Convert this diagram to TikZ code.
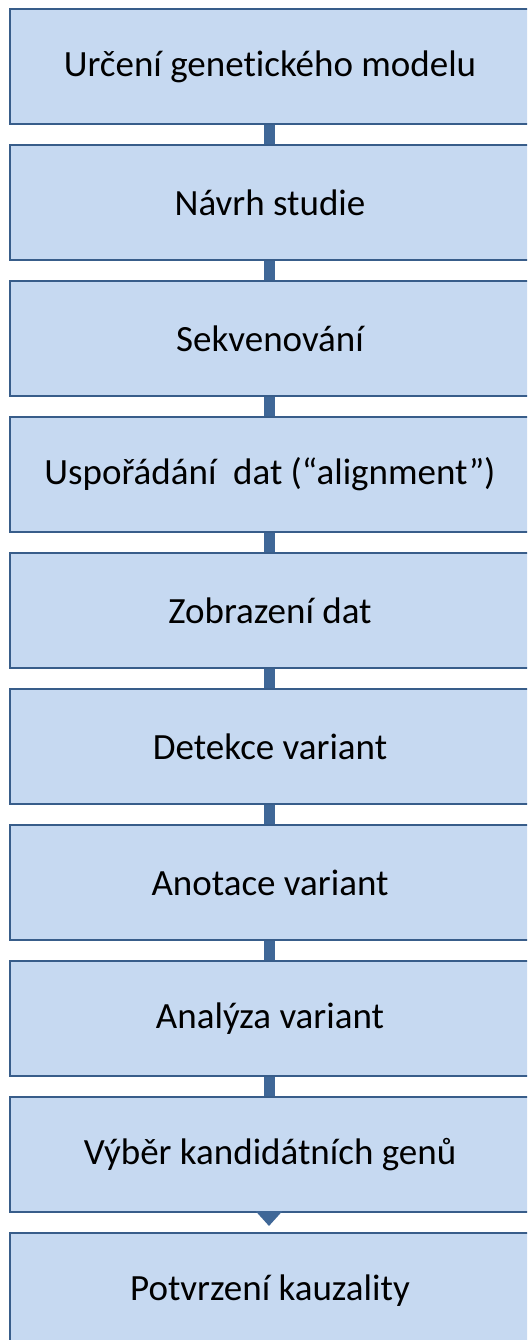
\documentclass[tikz,border=0pt]{standalone}
\usepackage{fontspec}
\setmainfont{Carlito}[Ligatures=CommonOff]
\usetikzlibrary{arrows.meta}
\definecolor{boxfill}{HTML}{C6D9F1}
\definecolor{boxline}{HTML}{385D8A}
\definecolor{barblue}{HTML}{3F6797}
\tikzset{
  stepbox/.style={draw=boxline, line width=2pt, fill=boxfill, rectangle,
    minimum width=520pt, minimum height=115pt, inner sep=0pt,
    font=\fontsize{37}{42}\selectfont, text=black},
  linkbar/.style={draw=barblue, line width=11pt},
  linkarrow/.style={draw=barblue, fill=barblue, line width=9pt, shorten >=6pt,
    -{Triangle[width=26pt,length=15pt]}},
}
\begin{document}
\begin{tikzpicture}[x=1pt,y=1pt]
\useasboundingbox (0,0) rectangle (527,-1340);
\clip (0,0) rectangle (527,-1340);
% process steps, top to bottom
\node[stepbox] (b1)  at (270,-66.5)   {Určení genetického modelu};
\node[stepbox] (b2)  at (270,-202.5)  {Návrh studie};
\node[stepbox] (b3)  at (270,-338.5)  {Sekvenování};
\node[stepbox] (b4)  at (270,-474.5)  {Uspořádání\ \ dat (“alignment”)};
\node[stepbox] (b5)  at (270,-610.5)  {Zobrazení dat};
\node[stepbox] (b6)  at (270,-746.5)  {Detekce variant};
\node[stepbox] (b7)  at (270,-882.5)  {Anotace variant};
\node[stepbox] (b8)  at (270,-1018.5) {Analýza variant};
\node[stepbox] (b9)  at (270,-1154.5) {Výběr kandidátních genů};
\node[stepbox] (b10) at (270,-1290.5) {Potvrzení kauzality};
% links between steps
\foreach \a/\b in {b1/b2,b2/b3,b3/b4,b4/b5,b5/b6,b6/b7,b7/b8,b8/b9}{
  \draw[linkbar] ([xshift=-1pt]\a.south) -- ([xshift=-1pt]\b.north);
}
\draw[linkarrow] ([xshift=-1pt]b9.south) -- ([xshift=-1pt]b10.north);
\end{tikzpicture}
\end{document}
